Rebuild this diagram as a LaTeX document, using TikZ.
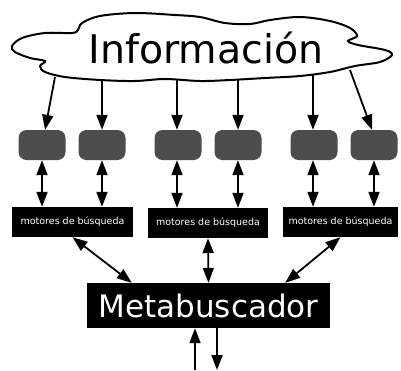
\documentclass[tikz,border=0pt]{standalone}
\usepackage{fontspec}
\setmainfont{DejaVu Sans}
\usetikzlibrary{arrows.meta}
\definecolor{engine}{HTML}{4D4D4D}
\tikzset{
  conn/.style={line width=1.8pt, -{Triangle[length=15pt,width=11pt]}},
  dconn/.style={line width=1.8pt, {Triangle[length=15pt,width=11pt]}-{Triangle[length=15pt,width=11pt]}},
  enginebox/.style={fill=engine, rounded corners=8pt, minimum width=47pt, minimum height=30pt, inner sep=0pt},
  motorbox/.style={fill=black, text=white, font=\fontsize{9.5}{11}\selectfont, minimum height=30pt, inner sep=0pt},
}
\begin{document}
\begin{tikzpicture}[x=1pt,y=-1pt]
\useasboundingbox (0,0) rectangle (401,370);
% cloud
\draw[line width=2pt, fill=white] plot[smooth cycle, tension=0.55] coordinates {
(12,46) (22,38) (45,33) (72,33) (78,30) (82,23) (100,16) (135,13) (175,15) (200,17)
(225,23) (250,24) (270,20) (300,17) (330,21) (350,28) (357,36) (348,41) (358,45)
(385,50) (392,55) (380,62) (355,66) (330,72) (300,76) (265,78) (230,80) (200,81)
(165,79) (135,81) (100,80) (65,77) (45,72) (40,66) (45,61) (30,58) (15,52)};
\node (info) at (206,48) {\fontsize{39.5}{44}\selectfont Información};
\coordinate (c1) at (55,77);
\coordinate (c2) at (102,81);
\coordinate (c3) at (177,80);
\coordinate (c4) at (238,80);
\coordinate (c5) at (313,75);
\coordinate (c6) at (350,70);
% engines
\node[enginebox] (g1) at (42,145) {};
\node[enginebox] (g2) at (102,145) {};
\node[enginebox] (g3) at (178,145) {};
\node[enginebox] (g4) at (238,145) {};
\node[enginebox] (g5) at (314,145) {};
\node[enginebox] (g6) at (374,145) {};
% motores
\node[motorbox, minimum width=121pt] (m1) at (72.5,222) {motores de búsqueda};
\node[motorbox, minimum width=120pt] (m2) at (208,223) {motores de búsqueda};
\node[motorbox, minimum width=115pt] (m3) at (340.5,222) {motores de búsqueda};
% meta
\node[fill=black, text=white, minimum width=243pt, minimum height=45pt, inner sep=0pt,
  font=\fontsize{31}{36}\selectfont] (meta) at (208.5,305.5) {Metabuscador};
\coordinate (in) at (195,370);
\coordinate (out) at (217,370);
% arrows from cloud
\draw[conn] (c1) -- ([xshift=3pt]g1.north);
\draw[conn] (c2) -- (g2.north);
\draw[conn] (c3) -- ([xshift=-1pt]g3.north);
\draw[conn] (c4) -- (g4.north);
\draw[conn] (c5) -- ([xshift=-1pt]g5.north);
\draw[conn] (c6) -- ([xshift=-2pt]g6.north);
% engine to motores
\draw[dconn] (g1.south) -- (g1.south |- m1.north);
\draw[dconn] (g2.south) -- (g2.south |- m1.north);
\draw[dconn] ([xshift=-1pt]g3.south) -- ([xshift=-1pt]g3.south |- m2.north);
\draw[dconn] (g4.south) -- (g4.south |- m2.north);
\draw[dconn] ([xshift=-1pt]g5.south) -- ([xshift=-1pt]g5.south |- m3.north);
\draw[dconn] (g6.south) -- (g6.south |- m3.north);
% motores to meta
\draw[dconn] (m1.south) -- ([xshift=45pt]meta.north west);
\draw[dconn] (m2.south) -- (meta.north);
\draw[dconn] (m3.south) -- ([xshift=-45pt]meta.north east);
% in/out
\draw[conn] (in) -- (in |- meta.south);
\draw[conn] (out |- meta.south) -- (out);
\end{tikzpicture}
\end{document}
